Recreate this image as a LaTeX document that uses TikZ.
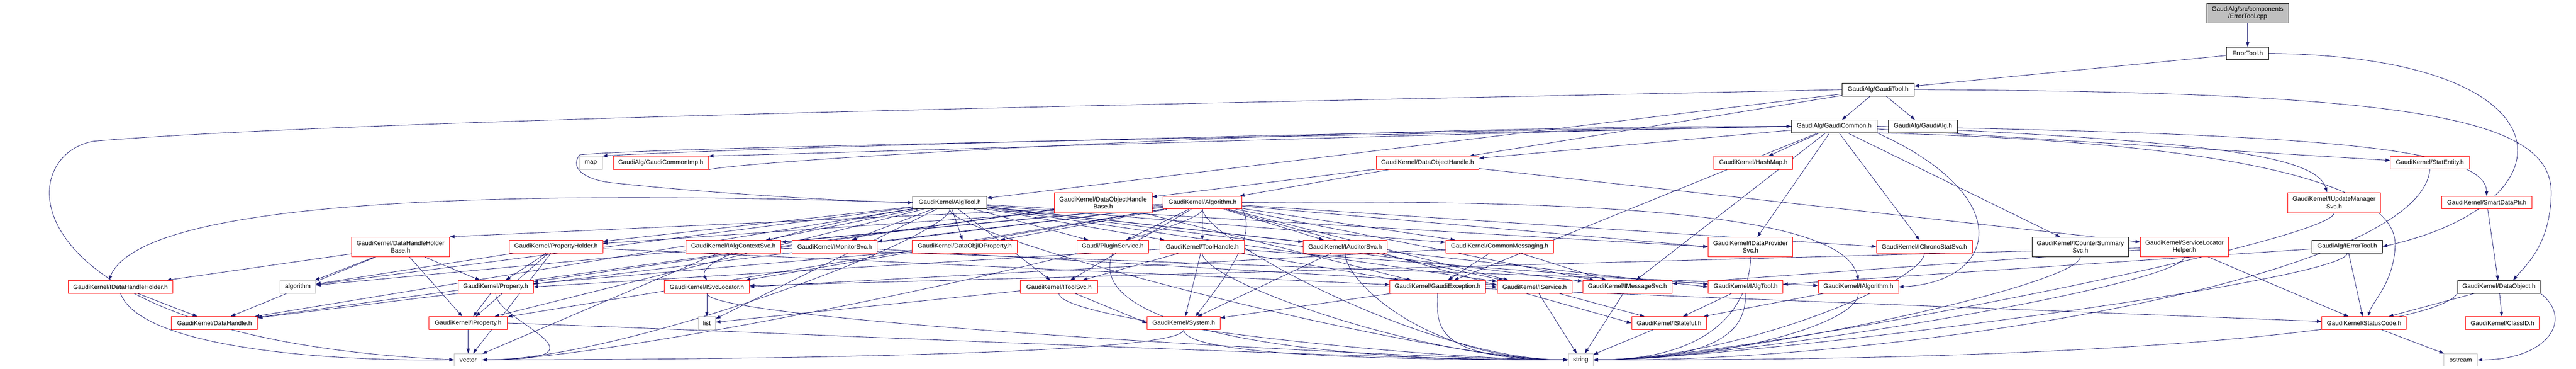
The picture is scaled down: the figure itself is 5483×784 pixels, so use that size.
\documentclass[tikz,border=0pt]{standalone}
\usepackage{fontspec}
\setmainfont{Liberation Sans}
\usetikzlibrary{arrows.meta,calc}
\definecolor{eblue}{HTML}{191970}
\definecolor{grayb}{HTML}{BFBFBF}
\pgfdeclarelayer{back}
\pgfdeclarelayer{bg}
\pgfsetlayers{back,bg,main}
\tikzset{
 nd/.style={rectangle, fill=white, inner sep=0pt, align=center, font=\fontsize{13.3}{16}\selectfont, line width=1pt},
 rd/.style={nd, draw=red},
 bk/.style={nd, draw=black},
 gr/.style={nd, draw=grayb},
 e/.style={draw=eblue, line width=0.9pt, -{Triangle[length=10pt,width=7pt]}},
}
\newcommand\toStrR[1]{\draw[e] (#1.south) .. controls ($(#1.south)+(0,-60)$) and ($(string.east)+(300,0)$) .. (string.east);}
\newcommand\toStrL[1]{\draw[e] (#1.south) .. controls ($(#1.south)+(0,-60)$) and ($(string.west)+(-300,0)$) .. (string.west);}
\newcommand\toVecR[1]{\draw[e] (#1.south) .. controls ($(#1.south)+(0,-60)$) and ($(vector.east)+(300,0)$) .. (vector.east);}
\newcommand\nb[6]{\node[#1, minimum width=#4pt, minimum height=#5pt] (#6) at (#2,-#3)}
\begin{document}
\begin{tikzpicture}[x=1pt,y=1pt]
\useasboundingbox (0,0) rectangle (5483,-784);
\begin{pgfonlayer}{back}
\fill[white] (0,0) rectangle (5483,-784);
\end{pgfonlayer}
% nodes
\nb{bk,fill=grayb}{4784}{28}{174}{42}{cpp} {GaudiAlg/src/components\\/ErrorTool.cpp};
\nb{bk}{4784}{113.5}{90}{27}{eth} {ErrorTool.h};
\nb{bk}{3997.5}{190.5}{153}{27}{gtool} {GaudiAlg/GaudiTool.h};
\nb{bk}{3904}{268.5}{182}{27}{gcommon} {GaudiAlg/GaudiCommon.h};
\nb{bk}{4093}{268.5}{146}{27}{galg} {GaudiAlg/GaudiAlg.h};
\nb{rd}{3732}{346}{168}{28}{hashmap} {GaudiKernel/HashMap.h};
\nb{rd}{5172}{346}{168}{27}{statentity} {GaudiKernel/StatEntity.h};
\nb{rd}{4968}{430.5}{198}{43}{iupdate} {GaudiKernel/IUpdateManager\\Svc.h};
\nb{rd}{5293}{430.5}{192}{27}{smartptr} {GaudiKernel/SmartDataPtr.h};
\nb{rd}{3038.5}{346}{219}{28}{doh} {GaudiKernel/DataObjectHandle.h};
\nb{rd}{2348}{431}{208}{43}{dohb} {GaudiKernel/DataObjectHandle\\Base.h};
\nb{rd}{2559.5}{430.5}{167}{27}{algorithmh} {GaudiKernel/Algorithm.h};
\nb{bk}{2021.5}{430.5}{157}{27}{algtool} {GaudiKernel/AlgTool.h};
\nb{gr}{1257.5}{346}{49}{28}{map} {map};
\nb{rd}{1406.5}{346}{203}{28}{gcimp} {GaudiAlg/GaudiCommonImp.h};
\nb{rd}{256.5}{609.5}{223}{27}{idhh} {GaudiKernel/IDataHandleHolder.h};
\nb{gr}{634}{609.5}{76}{27}{algo} {algorithm};
\nb{rd}{852.5}{524.5}{209}{42}{dhhb} {GaudiKernel/DataHandleHolder\\Base.h};
\nb{rd}{1055}{609.5}{160}{27}{prop} {GaudiKernel/Property.h};
\nb{rd}{1183.5}{524}{199}{27}{propholder} {GaudiKernel/PropertyHolder.h};
\nb{rd}{456.5}{686.5}{183}{27}{dh} {GaudiKernel/DataHandle.h};
\nb{rd}{996.5}{686.5}{167}{27}{iprop} {GaudiKernel/IProperty.h};
\nb{gr}{996.5}{764.5}{59}{26}{vector} {vector};
\nb{rd}{1561}{524}{202}{27}{iactx} {GaudiKernel/IAlgContextSvc.h};
\nb{rd}{1776.5}{524}{181}{27}{imon} {GaudiKernel/IMonitorSvc.h};
\nb{rd}{2053.5}{524}{223}{27}{dojp} {GaudiKernel/DataObjIDProperty.h};
\nb{rd}{1504.5}{609.5}{181}{27}{isvcloc} {GaudiKernel/ISvcLocator.h};
\nb{gr}{1504.5}{686.5}{37}{27}{list} {list};
\nb{rd}{2254}{609.5}{164}{27}{itoolsvc} {GaudiKernel/IToolSvc.h};
\nb{rd}{2368.5}{524}{153}{27}{plugin} {Gaudi/PluginService.h};
\nb{rd}{2559}{524}{180}{27}{toolhandle} {GaudiKernel/ToolHandle.h};
\nb{rd}{2863}{524}{178}{27}{iaud} {GaudiKernel/IAuditorSvc.h};
\nb{rd}{3192}{524}{230}{27}{commsg} {GaudiKernel/CommonMessaging.h};
\nb{rd}{2519.5}{686.5}{155}{27}{sys} {GaudiKernel/System.h};
\nb{rd}{3060}{609.5}{204}{27}{gexc} {GaudiKernel/GaudiException.h};
\nb{rd}{3266.5}{609.5}{159}{27}{isvc} {GaudiKernel/IService.h};
\nb{rd}{3464}{609.5}{190}{27}{imsg} {GaudiKernel/IMessageSvc.h};
\nb{rd}{3715.5}{609.5}{159}{27}{ialgtool} {GaudiKernel/IAlgTool.h};
\nb{rd}{3955.5}{609.5}{171}{27}{ialg} {GaudiKernel/IAlgorithm.h};
\nb{rd}{3552.5}{686.5}{159}{27}{istateful} {GaudiKernel/IStateful.h};
\nb{gr}{3364.5}{764.5}{53}{26}{string} {string};
\nb{rd}{3726}{524.5}{180}{41}{idp} {GaudiKernel/IDataProvider\\Svc.h};
\nb{rd}{4096}{524}{204}{27}{ichrono} {GaudiKernel/IChronoStatSvc.h};
\nb{bk}{4428}{524.5}{206}{41}{icounter} {GaudiKernel/ICounterSummary\\Svc.h};
\nb{rd}{4649.5}{524.5}{187}{41}{slh} {GaudiKernel/ServiceLocator\\Helper.h};
\nb{bk}{4996}{524}{150}{27}{ierr} {GaudiAlg/IErrorTool.h};
\nb{bk}{5319}{609.5}{176}{27}{dobj} {GaudiKernel/DataObject.h};
\nb{rd}{5032}{686.5}{180}{27}{sc} {GaudiKernel/StatusCode.h};
\nb{rd}{5326.5}{686.5}{157}{27}{classid} {GaudiKernel/ClassID.h};
\nb{gr}{5237.5}{764.5}{71}{26}{ostream} {ostream};
\begin{pgfonlayer}{bg}
% top part
\draw[e] (cpp) -- (eth);
\draw[e] (eth) -- (gtool);
\draw[e] (eth.east) .. controls (5480,-120) and (5490,-430) .. (ierr.east);
\draw[e] (gtool) -- (gcommon);
\draw[e] (gtool) -- (galg);
\draw[e] (gtool) -- (algtool);
\draw[e] (gtool) -- (doh);
\draw[e] (gtool.east) .. controls (5200,-195) and (5440,-260) .. (5430,-420) .. controls (5425,-520) and (5380,-560) .. ([xshift=30pt]dobj.north);
\draw[e] (gtool.west) .. controls (2800,-215) and (800,-250) .. (200,-300) .. controls (20,-330) and (10,-720) .. (vector.west);
% GaudiCommon
\draw[e] (gcommon) -- (hashmap);
\draw[e] (gcommon) -- (statentity);
\draw[e] (gcommon.east) .. controls (4700,-300) and (4930,-330) .. ([xshift=-15pt]iupdate.north);
\draw[e] (gcommon.east) .. controls (4900,-285) and (5290,-310) .. (smartptr.north);
\draw[e] (gcommon) -- (doh);
\draw[e] (gcommon.west) .. controls (3000,-285) and (1800,-325) .. (gcimp.north east);
\draw[e] (gcimp.south east) .. controls (1600,-340) and (2800,-268) .. (gcommon.west);
\draw[e] (gcommon.west) .. controls (2800,-280) and (1500,-318) .. (map.north east);
\draw[e] (gcommon.west) .. controls (2800,-290) and (1400,-312) .. (1234,-329) .. controls (1210,-360) and (1250,-382) .. (1300,-388) .. controls (1500,-410) and (1800,-428) .. (algtool.west);
\draw[e] (gcommon) -- (idp);
\draw[e] (gcommon) -- (ichrono);
\draw[e] (gcommon) -- (icounter);
\draw[e] (gcommon.south east) .. controls (4700,-300) and (5100,-380) .. (5098,-520) .. controls (5096,-600) and (5050,-640) .. ([xshift=8pt]sc.north);
\draw[e] (gcommon) -- (gexc);
\draw[e] (gcommon) -- (imsg);
\draw[e] (gcommon.south east) .. controls (4300,-420) and (4250,-600) .. (ialg.east);
% DataObjectHandle
\draw[e] (doh) -- (dohb);
\draw[e] (doh) -- (algorithmh);
\draw[e] (doh) -- (slh);
% Algorithm.h
\draw[e] (algorithmh) -- (dhhb.north east);
\draw[e] (algorithmh) -- (propholder);
\draw[e] (algorithmh) -- (iactx);
\draw[e] (algorithmh) -- (imon);
\draw[e] (algorithmh) -- (dojp);
\draw[e] (algorithmh) -- (isvcloc);
\draw[e] (algorithmh) -- (itoolsvc);
\draw[e] (algorithmh) -- (plugin);
\draw[e] (algorithmh) -- (toolhandle);
\draw[e] (algorithmh) -- (iaud);
\draw[e] (algorithmh) -- (commsg);
\draw[e] (algorithmh.south east) .. controls (2680,-500) and (2600,-600) .. ([xshift=25pt]sys.north);
\draw[e] (algorithmh) -- (isvc);
\draw[e] (algorithmh) -- (imsg);
\draw[e] (algorithmh.east) .. controls (3600,-420) and (3930,-480) .. (ialg.north);
\draw[e] (algorithmh) -- (idp.west);
\draw[e] (algorithmh) -- (ichrono.west);
\draw[e] (algorithmh) -- (istateful.west);
\toStrL{algorithmh}
\toVecR{algorithmh}
\draw[e] (algorithmh) -- (algo);
\draw[e] (algorithmh) -- (dh);
\draw[e] (algorithmh) -- (iprop);
% AlgTool.h
\draw[e] (algtool) -- (propholder);
\draw[e] (algtool) -- (iactx);
\draw[e] (algtool) -- (imon);
\draw[e] (algtool) -- (dojp);
\draw[e] (algtool.south west) .. controls (1700,-480) and (1480,-550) .. (isvcloc.north);
\draw[e] (algtool) -- (itoolsvc);
\draw[e] (algtool) -- (plugin);
\draw[e] (algtool) -- (toolhandle);
\draw[e] (algtool) -- (iaud);
\draw[e] (algtool) -- (commsg);
\draw[e] (algtool) -- (ialgtool.west);
\draw[e] (algtool) -- (isvc);
\draw[e] (algtool) -- (imsg);
\draw[e] (algtool) -- (idp.west);
\toStrL{algtool}
\toVecR{algtool}
\draw[e] (algtool) -- (list);
\draw[e] (algtool) -- (dh);
\draw[e] (algtool) -- (iprop);
\draw[e] (algtool.west) .. controls (1000,-400) and (300,-430) .. ([xshift=-25pt]idhh.north);
\draw[e] (algtool) -- (algo);
% DataObjectHandleBase
\draw[e] (dohb) -- (dh);
\draw[e] (dohb) -- (prop);
\draw[e] (dohb) -- (gexc);
% DataHandleHolderBase
\draw[e] (dhhb) -- (idhh);
\draw[e] (dhhb) -- (algo);
\draw[e] (dhhb) -- (prop);
\draw[e] (dhhb) -- (dh);
\draw[e] (dhhb) -- (iprop);
% IDataHandleHolder
\draw[e] (idhh) -- (dh);
\draw[e] (idhh.south) .. controls (300,-740) and (700,-768) .. (vector.west);
% PropertyHolder
\draw[e] (propholder) -- (prop);
\draw[e] (propholder) -- (iprop);
\draw[e] (propholder) -- (algo);
\draw[e] (propholder) -- (vector);
\draw[e] (propholder) -- (gexc);
% Property
\draw[e] (prop) -- (iprop);
\toVecR{prop}
\draw[e] (iprop) -- (vector);
\draw[e] (iprop.east) .. controls (1500,-700) and (3000,-768) .. (string.west);
% interfaces
\draw[e] (iactx) -- (vector);
\draw[e] (iactx) -- (ialg);
\draw[e] (imon) -- (isvc);
\draw[e] (dojp) -- (prop);
\draw[e] (isvcloc) -- (list);
\toStrL{isvcloc}
\draw[e] (itoolsvc) -- (list);
\draw[e] (itoolsvc) -- (isvc);
\draw[e] (itoolsvc) -- (sys.west);
\toStrL{itoolsvc}
\draw[e] (plugin.south) .. controls (2300,-700) and (2800,-770) .. (string.west);
\draw[e] (toolhandle) -- (itoolsvc);
\draw[e] (toolhandle) -- (sys);
\draw[e] (toolhandle) -- (ialgtool);
\draw[e] (toolhandle) -- (gexc);
\draw[e] (toolhandle) -- (prop.east);
\toStrL{toolhandle}
\draw[e] (iaud) -- (sys);
\draw[e] (iaud) -- (isvc);
\toStrL{iaud}
\draw[e] (commsg) -- (gexc);
\draw[e] (commsg) -- (imsg);
\draw[e] (commsg) -- (isvcloc.east);
\draw[e] (gexc) -- (sc);
\draw[e] (gexc) -- (sys);
\toStrL{gexc}
\draw[e] (isvc) -- (istateful);
\draw[e] (isvc) -- (string);
\draw[e] (imsg) -- (string);
\draw[e] (ialgtool) -- (istateful);
\toStrR{ialgtool}
\draw[e] (ialg) -- (istateful);
\toStrR{ialg}
\draw[e] (istateful) -- (string);
\toStrL{sys}
\toVecR{sys}
\toStrR{idp}
\toStrR{ichrono}
\toStrR{icounter}
\draw[e] (slh) -- (sc);
\draw[e] (slh) -- (isvcloc);
\draw[e] (slh) -- (imsg);
\toStrR{slh}
\draw[e] (ierr) -- (sc);
\draw[e] (ierr) -- (ialgtool);
\toStrR{ierr}
\draw[e] (dobj) -- (sc);
\draw[e] (dobj) -- (classid);
\draw[e] (dobj.south east) .. controls (5480,-680) and (5420,-765) .. (ostream.east);
\draw[e] (dobj.south west) .. controls (5180,-700) and (4500,-768) .. (string.east);
\draw[e] (sc) -- (ostream);
\draw[e] (statentity.south) .. controls (5150,-600) and (4000,-772) .. (string.east);
\toStrR{iupdate}
\draw[e] (smartptr) -- (dobj);
\end{pgfonlayer}
\end{tikzpicture}
\end{document}
